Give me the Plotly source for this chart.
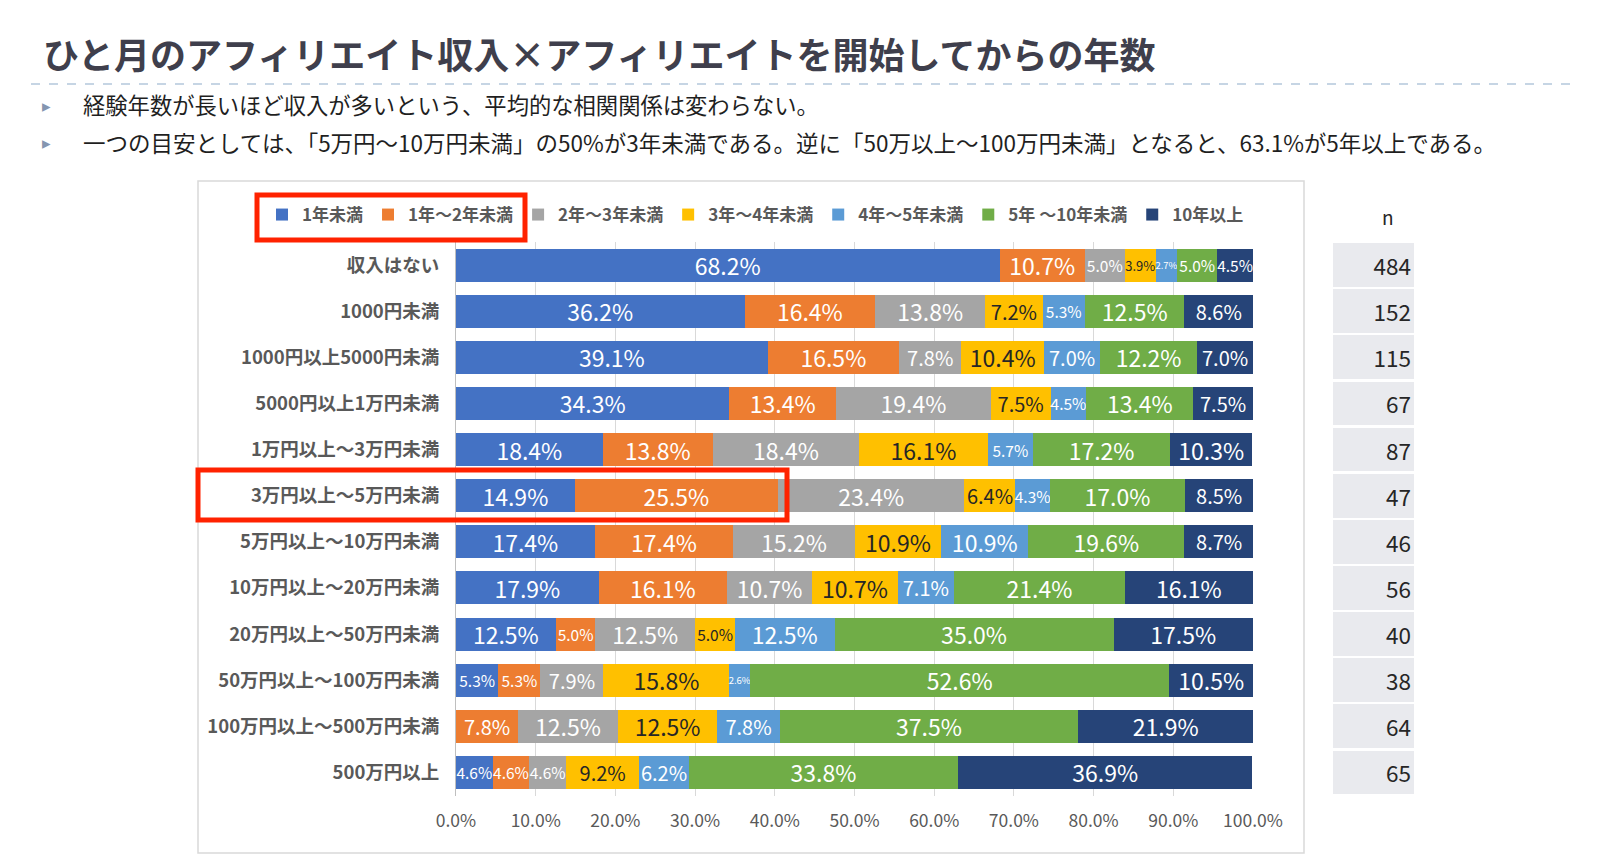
import plotly.graph_objects as go

# ---------------- data ----------------
categories = [
    "収入はない", "1000円未満", "1000円以上5000円未満", "5000円以上1万円未満",
    "1万円以上～3万円未満", "3万円以上～5万円未満", "5万円以上～10万円未満",
    "10万円以上～20万円未満", "20万円以上～50万円未満", "50万円以上～100万円未満",
    "100万円以上～500万円未満", "500万円以上",
]
series_names = ["1年未満", "1年～2年未満", "2年～3年未満", "3年～4年未満",
                "4年～5年未満", "5年 ～10年未満", "10年以上"]
s_lt1 = [68.2, 36.2, 39.1, 34.3, 18.4, 14.9, 17.4, 17.9, 12.5, 5.3, 0.0, 4.6]
s_1_2 = [10.7, 16.4, 16.5, 13.4, 13.8, 25.5, 17.4, 16.1, 5.0, 5.3, 7.8, 4.6]
s_2_3 = [5.0, 13.8, 7.8, 19.4, 18.4, 23.4, 15.2, 10.7, 12.5, 7.9, 12.5, 4.6]
s_3_4 = [3.9, 7.2, 10.4, 7.5, 16.1, 6.4, 10.9, 10.7, 5.0, 15.8, 12.5, 9.2]
s_4_5 = [2.7, 5.3, 7.0, 4.5, 5.7, 4.3, 10.9, 7.1, 12.5, 2.6, 7.8, 6.2]
s_5_10 = [5.0, 12.5, 12.2, 13.4, 17.2, 17.0, 19.6, 21.4, 35.0, 52.6, 37.5, 33.8]
s_10p = [4.5, 8.6, 7.0, 7.5, 10.3, 8.5, 8.7, 16.1, 17.5, 10.5, 21.9, 36.9]
n_values = [484, 152, 115, 67, 87, 47, 46, 56, 40, 38, 64, 65]
x_ticks = [0, 10, 20, 30, 40, 50, 60, 70, 80, 90, 100]

title_text = "ひと月のアフィリエイト収入×アフィリエイトを開始してからの年数"
bullet_1 = "経験年数が長いほど収入が多いという、平均的な相関関係は変わらない。"
bullet_2 = "一つの目安としては、「5万円～10万円未満」の50%が3年未満である。逆に「50万以上～100万円未満」となると、63.1%が5年以上である。"

# ---------------- style ----------------
colors = ["#4472C4", "#ED7D31", "#A5A5A5", "#FFC000", "#5B9BD5", "#70AD47", "#264478"]
text_colors = ["white", "white", "white", "#262626", "white", "white", "white"]
FONT = "Noto Sans CJK JP"
OFF = 8                      # page body margin
W, H = 1600 - OFF, 859 - OFF


def px(x):
    return (x - OFF) / W


def py(y):
    return 1 - (y - OFF) / H


def label_size(v):
    if v >= 9.5:
        return 23
    if v >= 6:
        return 20
    if v >= 4:
        return 15.5
    if v >= 3:
        return 13
    return 9.5


series = [s_lt1, s_1_2, s_2_3, s_3_4, s_4_5, s_5_10, s_10p]

fig = go.Figure()
for name, vals, col, tcol in zip(series_names, series, colors, text_colors):
    fig.add_trace(go.Bar(
        y=categories, x=vals, orientation="h", name=name,
        marker=dict(color=col, line=dict(width=0)),
        text=[f"{v:.1f}%" if v > 0 else "" for v in vals],
        textposition="inside", insidetextanchor="middle", textangle=0,
        constraintext="none",
        textfont=dict(size=[label_size(v) for v in vals], color=tcol, family=FONT),
        width=0.715, xaxis="x", yaxis="y", hoverinfo="skip",
    ))

# n column
fig.add_trace(go.Bar(
    y=categories, x=[1] * len(n_values), orientation="h", showlegend=False,
    marker=dict(color="#E9EAEE", line=dict(width=0)),
    text=[str(v) for v in n_values], textposition="inside",
    insidetextanchor="end", textangle=0, constraintext="none",
    textfont=dict(size=22.5, color="#262626", family=FONT),
    width=0.95, xaxis="x2", yaxis="y", hoverinfo="skip",
))

ydom = [py(795.5), py(242)]

fig.update_layout(
    template="none",
    width=W, height=H,
    margin=dict(l=0, r=0, t=0, b=0),
    paper_bgcolor="white", plot_bgcolor="white",
    font=dict(family=FONT, color="#595959"),
    barmode="stack",
    xaxis=dict(
        domain=[px(456), px(1253)], range=[0, 100],
        tickvals=x_ticks, ticktext=[f"{v:.1f}%" for v in x_ticks],
        showgrid=True, gridcolor="#D9D9D9", gridwidth=1,
        zeroline=False, showline=False, ticks="",
        tickfont=dict(size=17.5, color="#595959", family=FONT),
        ticklabelstandoff=13, automargin=False, fixedrange=True,
    ),
    xaxis2=dict(domain=[px(1333), px(1414)], range=[0, 1], visible=False,
                fixedrange=True),
    yaxis=dict(
        domain=ydom, categoryorder="array", categoryarray=categories,
        autorange="reversed", showgrid=False, zeroline=False,
        showline=True, linecolor="#BFBFBF", linewidth=1, ticks="",
        tickfont=dict(size=18.5, color="#595959", family=FONT, weight="bold"),
        ticklabelstandoff=12, automargin=False, fixedrange=True,
    ),
    legend=dict(
        orientation="h", x=px(262), xanchor="left", y=py(215), yanchor="middle",
        font=dict(size=17, color="#595959", family=FONT, weight="bold"),
        traceorder="normal", itemwidth=30, bgcolor="rgba(0,0,0,0)",
        tracegroupgap=0,
    ),
    showlegend=True,
)

annotations = [
    dict(text=f"<b>{title_text}</b>", x=px(41), y=py(53), xref="paper", yref="paper",
         xanchor="left", yanchor="middle", showarrow=False,
         font=dict(size=36, color="#3F3F4C", family=FONT)),
    dict(text="▸", x=px(46), y=py(104), xref="paper", yref="paper",
         xanchor="center", yanchor="middle", showarrow=False,
         font=dict(size=17, color="#8496B0", family=FONT)),
    dict(text="▸", x=px(46), y=py(142), xref="paper", yref="paper",
         xanchor="center", yanchor="middle", showarrow=False,
         font=dict(size=17, color="#8496B0", family=FONT)),
    dict(text=bullet_1, x=px(81), y=py(104), xref="paper", yref="paper",
         xanchor="left", yanchor="middle", showarrow=False,
         font=dict(size=22.3, color="#1F1F1F", family=FONT)),
    dict(text=bullet_2, x=px(81), y=py(142), xref="paper", yref="paper",
         xanchor="left", yanchor="middle", showarrow=False,
         font=dict(size=22.5, color="#1F1F1F", family=FONT)),
    dict(text="n", x=px(1388), y=py(216), xref="paper", yref="paper",
         xanchor="center", yanchor="middle", showarrow=False,
         font=dict(size=19, color="#262626", family=FONT)),
]
fig.update_layout(annotations=annotations)

shapes = [
    dict(type="line", xref="paper", yref="paper", x0=px(31), x1=px(1571),
         y0=py(84), y1=py(84), line=dict(color="#B4C7DC", width=1.5, dash="dash")),
    dict(type="rect", xref="paper", yref="paper", x0=px(198), x1=px(1304),
         y0=py(853), y1=py(181), line=dict(color="#D9D9D9", width=1.5), layer="below"),
    dict(type="rect", xref="paper", yref="paper", x0=px(257), x1=px(525),
         y0=py(240), y1=py(195), line=dict(color="#FF2200", width=5), layer="above"),
    dict(type="rect", xref="paper", yref="paper", x0=px(198), x1=px(787),
         y0=py(520), y1=py(470), line=dict(color="#FF2200", width=5), layer="above"),
]
fig.update_layout(shapes=shapes)

fig.write_html("out.html")
